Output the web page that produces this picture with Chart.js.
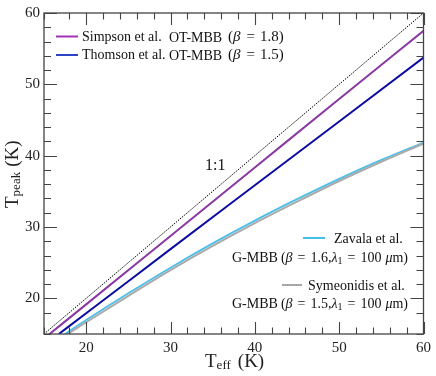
<!DOCTYPE html>
<html>
<head>
<meta charset="utf-8">
<script src="https://cdn.jsdelivr.net/npm/chart.js@4.4.1/dist/chart.umd.min.js"></script>
<style>
  body { margin: 0; background: #fff; }
  #wrap { width: 436px; height: 376px; }
</style>
</head>
<body>
<div id="wrap"><canvas id="peakChart" width="436" height="376"></canvas></div>
<script>
// T_eff (K) vs T_peak (K)
const xOneToOne = [15, 60];
const yOneToOne = [15, 60];

const xSimpson = [15.66, 20, 30, 40, 50, 60];
const ySimpson = [15.0, 19.15, 28.75, 38.35, 47.95, 57.5];

const xThomson = [16.75, 20, 30, 40, 50, 60];
const yThomson = [15.0, 17.9, 26.9, 35.85, 44.8, 53.75];

const xZavala = [17.5, 20, 25, 30, 35, 40, 45, 50, 55, 60];
const yZavala = [15.0, 16.95, 20.7, 24.3, 27.7, 30.9, 33.9, 36.75, 39.4, 41.85];

const xSymeonidis = [17.8, 20, 25, 30, 35, 40, 45, 50, 55, 60];
const ySymeonidis = [15.0, 16.65, 20.35, 23.95, 27.35, 30.55, 33.55, 36.45, 39.15, 41.7];

const axisMin = 15;
const axisMax = 60;
const tickLabels = [20, 30, 40, 50, 60];

function pts(xs, ys) {
  return xs.map((x, i) => ({ x: x, y: ys[i] }));
}

function lineSet(label, xs, ys, color, width, extra) {
  return Object.assign({
    label: label,
    data: pts(xs, ys),
    showLine: true,
    borderColor: color,
    backgroundColor: color,
    borderWidth: width,
    pointRadius: 0,
    cubicInterpolationMode: 'monotone'
  }, extra || {});
}

// draw a row of text pieces with different fonts
function drawRuns(ctx, runs, x, y) {
  let cx = x;
  runs.forEach(r => {
    ctx.font = r.f;
    cx += r.pre || 0;
    ctx.fillText(r.t, cx, y + (r.dy || 0));
    cx += ctx.measureText(r.t).width + (r.gap || 0);
  });
}

const rm = size => size + "px 'Liberation Serif'";
const it = size => "italic " + size + "px 'Liberation Serif'";

function betaRuns(beta) {
  return [
    { t: '(', f: rm(15) },
    { t: 'β', f: it(15), gap: 1 },
    { t: '=', f: rm(15), pre: 5, gap: 5 },
    { t: beta + ')', f: rm(15) }
  ];
}

function gmbb(beta) {
  return [
    { t: 'G-MBB', f: rm(14), gap: 3 },
    { t: '(', f: rm(14) },
    { t: 'β', f: it(14) },
    { t: '=', f: rm(14), pre: 5, gap: 5 },
    { t: beta + ',', f: rm(14) },
    { t: 'λ', f: it(14) },
    { t: '1', f: rm(10), dy: 3 },
    { t: '=', f: rm(14), pre: 5, gap: 5 },
    { t: '100', f: rm(14), gap: 4 },
    { t: 'μ', f: it(14) },
    { t: 'm)', f: rm(14) }
  ];
}

const framePlugin = {
  id: 'frame',
  afterDraw(chart) {
    const ctx = chart.ctx;
    const a = chart.chartArea;
    const xs = chart.scales.x, ys = chart.scales.y;
    ctx.save();
    ctx.strokeStyle = '#444';
    ctx.lineWidth = 1.3;
    ctx.strokeRect(a.left, a.top, a.right - a.left, a.bottom - a.top);

    // inward ticks on all four sides
    ctx.lineWidth = 1.1;
    ctx.beginPath();
    xs.ticks.forEach(t => {
      const len = t.value % 10 === 0 ? 12 : 6.5;
      const px = Math.round(xs.getPixelForValue(t.value)) + 0.5;
      ctx.moveTo(px, a.bottom); ctx.lineTo(px, a.bottom - len);
      ctx.moveTo(px, a.top); ctx.lineTo(px, a.top + len);
    });
    ys.ticks.forEach(t => {
      const len = t.value % 10 === 0 ? 13 : 7;
      const py = Math.round(ys.getPixelForValue(t.value)) + 0.5;
      ctx.moveTo(a.left, py); ctx.lineTo(a.left + len, py);
      ctx.moveTo(a.right, py); ctx.lineTo(a.right - len, py);
    });
    ctx.stroke();

    ctx.fillStyle = '#111';
    ctx.textBaseline = 'middle';
    ctx.textAlign = 'left';

    // top-left legend
    ctx.lineWidth = 2;
    ctx.strokeStyle = '#a032b8';
    ctx.beginPath(); ctx.moveTo(56, 36.5); ctx.lineTo(78, 36.5); ctx.stroke();
    ctx.strokeStyle = '#2a44c4';
    ctx.beginPath(); ctx.moveTo(56, 55); ctx.lineTo(78, 55); ctx.stroke();
    ctx.font = rm(14);
    ctx.fillText('Simpson et al.', 82, 37);
    ctx.fillText('Thomson et al.', 82, 55);
    ctx.fillText('OT-MBB', 169, 38);
    ctx.fillText('OT-MBB', 169, 56);
    drawRuns(ctx, betaRuns('1.8'), 228, 37);
    drawRuns(ctx, betaRuns('1.5'), 228, 55);

    // bottom-right legend
    ctx.strokeStyle = '#44bde8';
    ctx.beginPath(); ctx.moveTo(303, 238); ctx.lineTo(325, 238); ctx.stroke();
    ctx.strokeStyle = '#a8a8a8';
    ctx.beginPath(); ctx.moveTo(282, 285); ctx.lineTo(302, 285); ctx.stroke();
    ctx.font = rm(14);
    ctx.fillText('Zavala et al.', 334, 239);
    ctx.fillText('Symeonidis et al.', 308, 286);
    drawRuns(ctx, gmbb('1.6'), 232, 258);
    drawRuns(ctx, gmbb('1.5'), 232, 304);

    // 1:1 label
    ctx.font = rm(16);
    ctx.fillText('1:1', 205, 166);

    // x title
    ctx.fillStyle = '#222';
    drawRuns(ctx, [
      { t: 'T', f: rm(19) },
      { t: 'eff', f: rm(13), dy: 4, gap: 7 },
      { t: '(K)', f: rm(19) }
    ], 205, 362);

    // y title
    ctx.translate(13, 208);
    ctx.rotate(-Math.PI / 2);
    drawRuns(ctx, [
      { t: 'T', f: rm(19) },
      { t: 'peak', f: rm(13), dy: 4, gap: 5 },
      { t: '(K)', f: rm(19) }
    ], 0, 0);
    ctx.restore();
  }
};

const tickFont = { family: "'Liberation Serif'", size: 15 };

new Chart(document.getElementById('peakChart'), {
  type: 'scatter',
  data: {
    datasets: [
      lineSet('Symeonidis et al.', xSymeonidis, ySymeonidis, '#aaaaaa', 2),
      lineSet('Zavala et al.', xZavala, yZavala, '#4cbfe8', 1.8),
      lineSet('Thomson et al.', xThomson, yThomson, '#0c0ca2', 2),
      lineSet('Simpson et al.', xSimpson, ySimpson, '#8a38a2', 2),
      lineSet('1:1', xOneToOne, yOneToOne, '#000000', 1, { borderDash: [1.5, 1.2] })
    ]
  },
  options: {
    responsive: false,
    animation: false,
    devicePixelRatio: 1,
    layout: { padding: { top: 11, right: 11, left: 0, bottom: 0 } },
    plugins: { legend: { display: false }, tooltip: { enabled: false } },
    scales: {
      x: {
        type: 'linear',
        min: axisMin,
        max: axisMax,
        grid: { display: false, drawTicks: false },
        border: { display: false },
        afterFit: s => { s.height = 42; },
        ticks: {
          stepSize: 2,
          autoSkip: false,
          maxRotation: 0,
          padding: 5,
          color: '#222',
          font: tickFont,
          callback: v => tickLabels.includes(v) ? String(v) : ''
        }
      },
      y: {
        type: 'linear',
        min: axisMin,
        max: axisMax,
        grid: { display: false, drawTicks: false },
        border: { display: false },
        afterFit: s => { s.width = 44; },
        ticks: {
          stepSize: 2,
          autoSkip: false,
          padding: 4,
          color: '#222',
          font: tickFont,
          callback: v => tickLabels.includes(v) ? String(v) : ''
        }
      }
    }
  },
  plugins: [framePlugin]
});
</script>
</body>
</html>
